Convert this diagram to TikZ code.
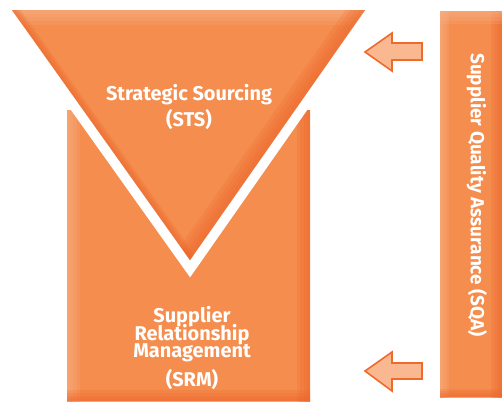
\documentclass[tikz,border=0pt]{standalone}
\usepackage{fontspec}
\setmainfont{Fira Sans}
\definecolor{oBase}{HTML}{F48D4E}
\definecolor{oDark}{HTML}{EE6428}
\definecolor{oLight}{HTML}{F9B48B}
\definecolor{aFill}{HTML}{F9B890}
\definecolor{aLine}{HTML}{EF6B2C}
\newcommand\edgeglow[3]{%
  \foreach \f in {1,0.75,0.5,0.25}{\draw[#1, line width=\f*#2, opacity=0.2] #3;}}
\newcommand\lblfont{\bfseries\fontsize{20}{17.5}\selectfont\setlength{\lineskiplimit}{-30pt}\setlength{\lineskip}{0pt}}
\newcommand\sqafont{\bfseries\fontsize{19}{19}\selectfont}
\tikzset{
  blockarrow/.style={fill=aFill, draw=aLine, line width=1.6bp, line join=miter},
  lbl/.style={text=white, font=\lblfont, align=center, inner sep=0pt},
}
\begin{document}
\begin{tikzpicture}[x=1bp,y=-1bp]
\useasboundingbox (0,0) rectangle (502,403);
% lower rectangle (SRM)
\coordinate (r1) at (67,110);
\coordinate (r2) at (310,401);
\fill[oBase] (r1) rectangle (r2);
\begin{scope}
  \clip (r1) rectangle (r2);
  \edgeglow{oLight}{26}{(67,100)--(67,410)}
  \edgeglow{oDark}{26}{(310,100)--(310,410)}
  \edgeglow{oDark}{22}{(60,401)--(320,401)}
\end{scope}
% triangle (STS) with white border
\coordinate (t1) at (12,10);
\coordinate (t2) at (365,10);
\coordinate (t3) at (190,260);
\draw[white, fill=white, line width=20bp, line join=miter] (t1)--(t2)--(t3)--cycle;
\fill[oBase] (t1)--(t2)--(t3)--cycle;
\begin{scope}
  \clip (t1)--(t2)--(t3)--cycle;
  \edgeglow{oLight}{30}{(0,10)--(380,10)}
  \edgeglow{oDark}{32}{(t2)--(t3)}
  \edgeglow{oDark}{14}{(t1)--(t3)}
\end{scope}
% right bar (SQA)
\coordinate (b1) at (440,11);
\coordinate (b2) at (502,397);
\fill[oBase] (b1) rectangle (b2);
\begin{scope}
  \clip (b1) rectangle (b2);
  \edgeglow{oLight}{18}{(440,0)--(440,410)}
  \edgeglow{oDark}{22}{(502,0)--(502,410)}
  \edgeglow{oLight}{26}{(430,11)--(510,11)}
  \edgeglow{oDark}{16}{(430,397)--(510,397)}
\end{scope}
% block arrows
\draw[blockarrow] (365,52)--(392,33)--(392,43)--(422,43)--(422,60)--(392,60)--(392,71)--cycle;
\draw[blockarrow] (365,371)--(392,352)--(392,363)--(422,363)--(422,379)--(392,379)--(392,391)--cycle;
% labels
\node[lbl] (sts) at (189,107) {Strategic Sourcing\\[8.5bp](STS)};
\node[lbl] (srm) at (192,348) {Supplier\\Relationship\\Management\\[11bp](SRM)};
\node[lbl, font=\sqafont, rotate=-90] (sqa) at (477,195) {Supplier Quality Assurance (SQA)};
\end{tikzpicture}
\end{document}
